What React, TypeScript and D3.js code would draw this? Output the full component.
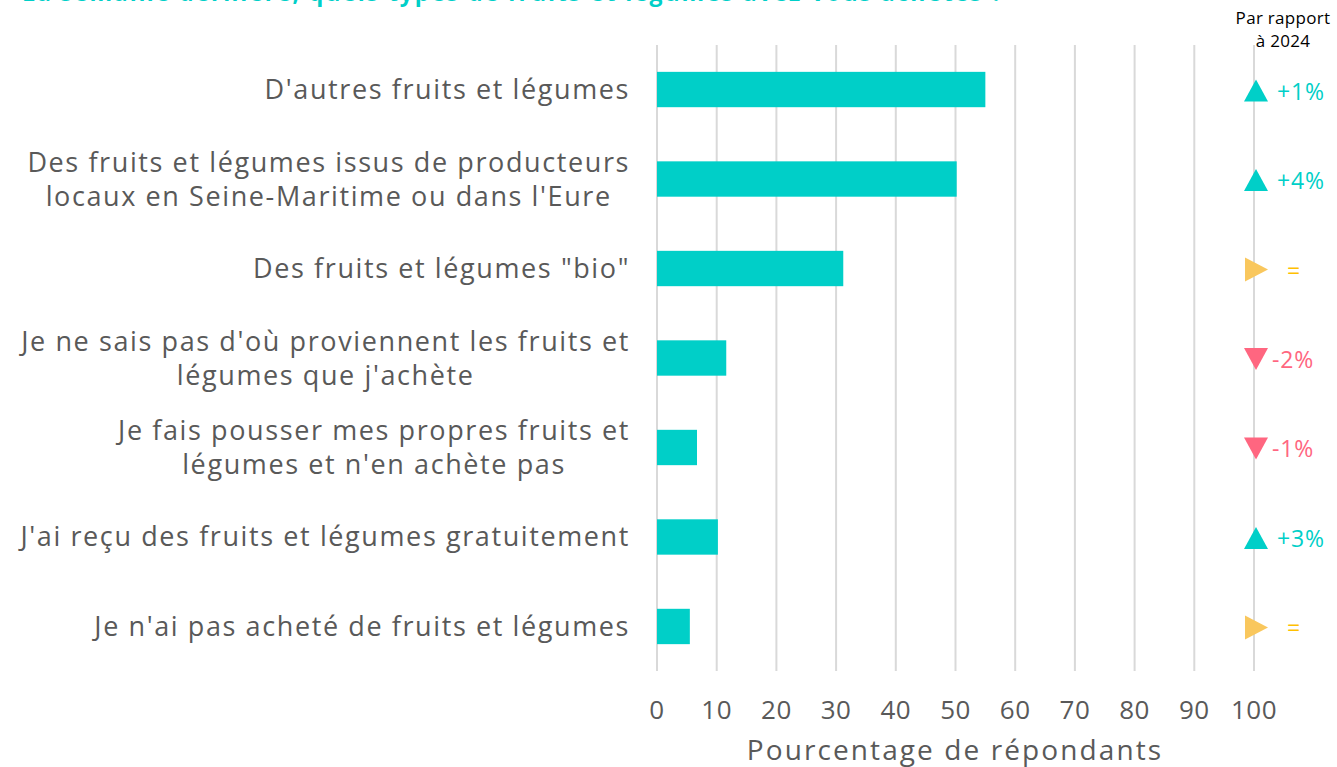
import React from "react";
import * as d3 from "d3";

const categories: string[][] = [
  ["D'autres fruits et légumes"],
  ["Des fruits et légumes issus de producteurs", "locaux en Seine-Maritime ou dans l'Eure"],
  ['Des fruits et légumes "bio"'],
  ["Je ne sais pas d'où proviennent les fruits et", "légumes que j'achète"],
  ["Je fais pousser mes propres fruits et", "légumes et n'en achète pas"],
  ["J'ai reçu des fruits et légumes gratuitement"],
  ["Je n'ai pas acheté de fruits et légumes"],
];
const values: number[] = [55, 50.2, 31.2, 11.6, 6.7, 10.2, 5.5];
const changes: string[] = ["+1%", "+4%", "=", "-2%", "-1%", "+3%", "="];
const trends: ("up" | "down" | "flat")[] = ["up", "up", "flat", "down", "down", "up", "flat"];
const ticks: number[] = [0, 10, 20, 30, 40, 50, 60, 70, 80, 90, 100];

const W = 1337, H = 767;
const FONT = "'Open Sans', sans-serif";
const TEAL = "#00CFC8";
const GREY = "#595959";
const trendColor = { up: "#00CFC8", down: "#FF6680", flat: "#F9C75D" };
const textColor = { up: "#00CFC8", down: "#FF6680", flat: "#FFC000" };

const LABEL_SIZE = 27;
const LABEL_LS = 1.6;

function measure(s: string): number {
  const c = document.createElement("canvas").getContext("2d")!;
  c.font = `${LABEL_SIZE}px 'Open Sans'`;
  return c.measureText(s).width + LABEL_LS * s.length;
}

export default function App() {
  const x = d3.scaleLinear().domain([0, 100]).range([657, 1254]);
  const idx = categories.map((_, i) => String(i));
  const y = d3.scaleBand().domain(idx).range([45, 671]).paddingInner(0.605).paddingOuter(0.3);
  const bw = y.bandwidth();
  const tri = (t: string) => {
    if (t === "up") return "M-12,11L12,11L0,-11Z";
    if (t === "down") return "M-12,-11L12,-11L0,11Z";
    return "M-11,-12L-11,12L12,0Z";
  };
  return (
    <div style={{ position: "fixed", left: 0, top: 0, width: W, height: H, background: "#fff" }}>
      <svg width={W} height={H} style={{ display: "block", fontFamily: FONT }}>
        <text x={22} y={1} fill={TEAL} fontWeight={700} fontSize={23} letterSpacing={1.9} fontFamily={FONT}>
          La semaine dernière, quels types de fruits et légumes avez-vous achetés ?
        </text>
        {ticks.map((t) => (
          <line key={t} x1={x(t)} x2={x(t)} y1={45} y2={671} stroke="#d9d9d9" strokeWidth={2} />
        ))}
        {values.map((v, i) => (
          <rect key={i} x={x(0)} y={y(String(i))!} width={x(v) - x(0)} height={bw} fill={TEAL} />
        ))}
        {categories.map((lines, i) => {
          const cy = y(String(i))! + bw / 2 - 1;
          const lh = 34;
          const start = cy - ((lines.length - 1) * lh) / 2;
          if (lines.length === 1) {
            return (
              <text key={i} x={630} y={cy} dominantBaseline="central" textAnchor="end" fill={GREY}
                fontSize={LABEL_SIZE} letterSpacing={LABEL_LS} fontFamily={FONT}>
                {lines[0]}
              </text>
            );
          }
          const wMax = Math.max(...lines.map(measure));
          const cx = 630 - wMax / 2;
          return (
            <g key={i}>
              {lines.map((l, j) => (
                <text key={j} x={cx} y={start + j * lh} dominantBaseline="central" textAnchor="middle"
                  fill={GREY} fontSize={LABEL_SIZE} letterSpacing={LABEL_LS} fontFamily={FONT}>
                  {l}
                </text>
              ))}
            </g>
          );
        })}
        {ticks.map((t) => (
          <text key={t} x={x(t)} y={719} textAnchor="middle" fill={GREY} fontSize={26} letterSpacing={0.5} fontFamily={FONT}>
            {t}
          </text>
        ))}
        <text x={955} y={760} textAnchor="middle" fill={GREY} fontSize={28} letterSpacing={2.1} fontFamily={FONT}>
          Pourcentage de répondants
        </text>
        <text x={1283} y={24} textAnchor="middle" fill="#000" fontSize={17} letterSpacing={0.3} fontFamily={FONT}>Par rapport</text>
        <text x={1283} y={47} textAnchor="middle" fill="#000" fontSize={17} letterSpacing={0.3} fontFamily={FONT}>à 2024</text>
        {changes.map((c, i) => {
          const cy = y(String(i))! + bw / 2 + 1;
          const t = trends[i];
          return (
            <g key={i}>
              <path d={tri(t)} transform={`translate(1256,${cy})`} fill={trendColor[t]} />
              <text
                x={t === "down" ? 1272 : t === "flat" ? 1287 : 1277}
                y={cy}
                dominantBaseline="central"
                fill={textColor[t]}
                fontSize={23}
                letterSpacing={0.8}
                fontFamily={FONT}
              >
                {c}
              </text>
            </g>
          );
        })}
      </svg>
    </div>
  );
}
